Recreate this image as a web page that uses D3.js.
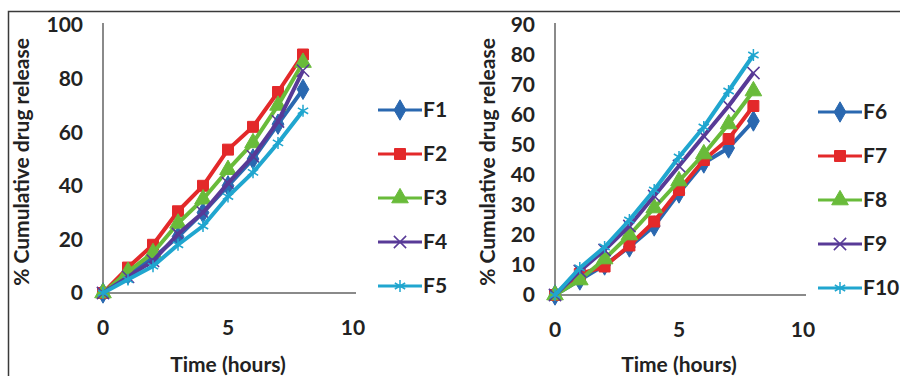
<!DOCTYPE html>
<html>
<head>
<meta charset="utf-8">
<script src="https://cdn.jsdelivr.net/npm/d3@7"></script>
<style>
  body { margin: 0; background: #fff; }
  svg { display: block; font-family: Lato, "Open Sans", sans-serif; font-weight: bold; }
</style>
</head>
<body>
<svg id="chart" width="900" height="376"></svg>
<script>
// time points (hours)
const hours = [0, 1, 2, 3, 4, 5, 6, 7, 8];

// left panel: F1..F5
const leftNames = ["F1", "F2", "F3", "F4", "F5"];
const F1 = [0, 7, 13, 21, 30, 40, 50, 63, 76];
const F2 = [0, 9.5, 18, 30.5, 40, 53.5, 62, 75, 89];
const F3 = [0, 8, 15, 26, 35, 46, 56, 70, 86];
const F4 = [0, 6, 12, 22, 30, 41, 51, 64, 83];
const F5 = [0, 5, 10, 18, 25, 36, 45, 56, 68];

// right panel: F6..F10
const rightNames = ["F6", "F7", "F8", "F9", "F10"];
const F6 = [0, 5, 10, 16, 23, 34, 44, 49, 58];
const F7 = [0, 7, 9.5, 16.5, 24.5, 35, 45, 52, 63];
const F8 = [0, 5, 12, 20, 29, 38, 47, 57, 68];
const F9 = [0, 8, 15, 23, 33, 43, 53, 63, 74];
const F10 = [0, 9, 16, 25, 35, 46, 56, 68, 80];

const xTicks = [0, 5, 10];
const leftYTicks = [0, 20, 40, 60, 80, 100];
const rightYTicks = [0, 10, 20, 30, 40, 50, 60, 70, 80, 90];

const colors = ["#2a68b0", "#e3292a", "#69bb3a", "#583a97", "#20a6cf"];
const symbols = [d3.symbolDiamond, d3.symbolSquare, d3.symbolTriangle, d3.symbolX, d3.symbolAsterisk];
const filled = [true, true, true, false, false];

const svg = d3.select("#chart");

// outer frame (top and left edges visible)
svg.append("path")
  .attr("d", "M8.5,376 V11.5 H900")
  .attr("fill", "none")
  .attr("stroke", "#3a3a3a")
  .attr("stroke-width", 1.5);

function drawPanel(opts) {
  const x = d3.scaleLinear().domain([0, 10]).range(opts.xRange);
  const y = d3.scaleLinear().domain([0, opts.yMax]).range(opts.yRange);
  const g = svg.append("g");

  // axis lines
  g.append("line")
    .attr("x1", x(0)).attr("x2", x(0))
    .attr("y1", y(opts.yMax) - 2).attr("y2", y(0))
    .attr("stroke", "#8a8a8a").attr("stroke-width", 2);
  g.append("line")
    .attr("x1", x(0)).attr("x2", x(10) + 3)
    .attr("y1", y(0)).attr("y2", y(0))
    .attr("stroke", "#8a8a8a").attr("stroke-width", 2);

  // tick labels
  g.selectAll(".yt").data(opts.yTicks).enter().append("text")
    .attr("x", x(0) - 20)
    .attr("y", d => y(d))
    .attr("dy", "0.35em")
    .attr("text-anchor", "end")
    .attr("font-size", 21)
    .attr("fill", "#222")
    .text(d => d);
  g.selectAll(".xt").data(xTicks).enter().append("text")
    .attr("x", d => x(d))
    .attr("y", y(0) + 35)
    .attr("dy", "0.35em")
    .attr("text-anchor", "middle")
    .attr("font-size", 21)
    .attr("fill", "#222")
    .text(d => d);

  // axis titles
  g.append("text")
    .attr("x", (x(0) + x(10)) / 2)
    .attr("y", 365)
    .attr("dy", "0.35em")
    .attr("text-anchor", "middle")
    .attr("font-size", 21)
    .attr("fill", "#222")
    .text("Time (hours)");
  g.append("text")
    .attr("transform", "translate(" + opts.titleX + "," + 162 + ")rotate(-90)")
    .attr("dy", "0.35em")
    .attr("text-anchor", "middle")
    .attr("font-size", 21)
    .attr("fill", "#222")
    .text("% Cumulative  drug release");

  const line = d3.line().x((d, i) => x(hours[i])).y(d => y(d));

  opts.series.forEach((s, k) => {
    g.append("path")
      .datum(s)
      .attr("d", line)
      .attr("fill", "none")
      .attr("stroke", colors[k])
      .attr("stroke-width", 4)
      .attr("stroke-linejoin", "round");
    const sym = d3.symbol().type(symbols[k]).size(filled[k] ? 120 : 100);
    g.selectAll(".m" + k).data(s).enter().append("path")
      .attr("d", sym)
      .attr("transform", (d, i) => "translate(" + x(hours[i]) + "," + y(d) + ")")
      .attr("fill", filled[k] ? colors[k] : "none")
      .attr("stroke", colors[k])
      .attr("stroke-width", filled[k] ? 1 : 1.5);
  });

  // legend
  const lg = g.append("g");
  opts.names.forEach((n, k) => {
    const ly = opts.legendY[0] + k * opts.legendStep;
    lg.append("line")
      .attr("x1", opts.legendX).attr("x2", opts.legendX + 44)
      .attr("y1", ly).attr("y2", ly)
      .attr("stroke", colors[k]).attr("stroke-width", 3);
    const sym = d3.symbol().type(symbols[k]).size(filled[k] ? 120 : 100);
    lg.append("path")
      .attr("d", sym)
      .attr("transform", "translate(" + (opts.legendX + 22) + "," + ly + ")")
      .attr("fill", filled[k] ? colors[k] : "none")
      .attr("stroke", colors[k])
      .attr("stroke-width", filled[k] ? 1 : 1.5);
    lg.append("text")
      .attr("x", opts.legendX + 45)
      .attr("y", ly)
      .attr("dy", "0.35em")
      .attr("font-size", 21)
      .attr("fill", "#222")
      .text(n);
  });
}

drawPanel({
  xRange: [103, 353],
  yRange: [293, 25],
  yMax: 100,
  yTicks: leftYTicks,
  titleX: 22,
  series: [F1, F2, F3, F4, F5],
  names: leftNames,
  legendX: 378,
  legendY: [110],
  legendStep: 44
});

drawPanel({
  xRange: [555, 803],
  yRange: [295, 25],
  yMax: 90,
  yTicks: rightYTicks,
  titleX: 488,
  series: [F6, F7, F8, F9, F10],
  names: rightNames,
  legendX: 818,
  legendY: [112],
  legendStep: 44
});
</script>
</body>
</html>
